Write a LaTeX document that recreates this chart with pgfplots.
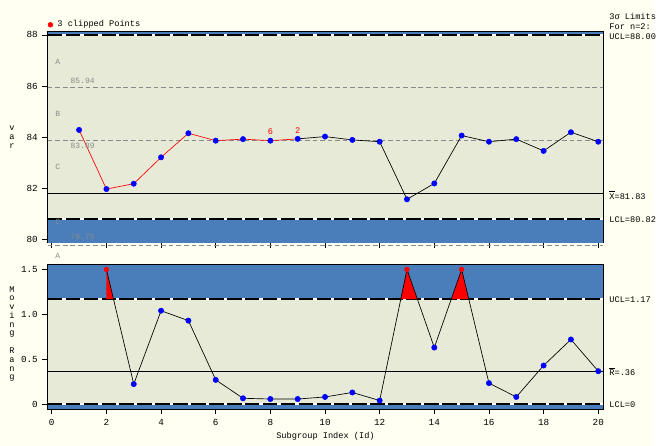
\documentclass[border=0pt]{standalone}
\usepackage{pgfplots}
\pgfplotsset{compat=1.18}
\usepackage{fontspec}
\setmainfont{Liberation Mono}
\definecolor{bg}{HTML}{FFFFF2}
\definecolor{plotbg}{HTML}{E6EAD6}
\definecolor{band}{HTML}{4A7EBB}
\definecolor{zonegray}{HTML}{8A8A8A}
\pgfplotsset{
  spc/.style={
    scale only axis, width=418.5pt, clip=false,
    xmin=-0.146, xmax=20.18,
    axis background/.style={fill=plotbg},
    xtick={0,2,...,20}, tick align=outside, xtick pos=bottom, ytick pos=left,
    major tick length=4pt, tick style={black, line width=0.5pt},
    /pgf/number format/assume math mode=true,
    ticklabel style={font=\fontsize{7}{8}\selectfont},
    axis line style={black, line width=0.6pt},
    ylabel style={rotate=-90, align=center, font=\fontsize{6.5}{6.6}\selectfont, anchor=center},
  },
  ctl/.style={white, line width=1.1pt},
  ctlb/.style={black, line width=1.1pt, dash pattern=on 11pt off 2.5pt},
  zone/.style={zonegray, line width=0.5pt, dash pattern=on 3.5pt off 2.2pt},
}
\tikzset{
  lab/.style={font=\fontsize{6.5}{7}\selectfont, anchor=west, inner sep=0pt},
  zlab/.style={font=\fontsize{6}{7}\selectfont, text=zonegray, inner sep=0pt},
}
\begin{document}
\begin{tikzpicture}
\fill[bg] (0,0) rectangle (492pt,336pt);
% ---------------- top panel: individual values ----------------
\begin{axis}[spc, at={(36pt,153pt)}, anchor=south west, height=159pt,
  ymin=79.88, ymax=88.12, ytick={80,82,...,88}, xticklabels={},
  ylabel={v\\a\\r},
  ylabel style={at={(axis description cs:-0.0645,0.5)}},
  legend style={at={(rel axis cs:0,1)}, anchor=south west, yshift=1pt, draw=none, fill=none,
    font=\fontsize{6.5}{7}\selectfont, inner sep=0pt, nodes={inner sep=1pt}},
  legend cell align=left]
\addlegendimage{only marks, mark=*, red, mark size=1.8pt}
\addlegendentry{\hspace{2.5pt}3 clipped Points}
\addplot[fill=band, draw=none, forget plot] coordinates {(-0.146,79.88) (20.18,79.88) (20.18,80.82) (-0.146,80.82)} -- cycle;
\addplot[fill=band, draw=none, forget plot] coordinates {(-0.146,88) (20.18,88) (20.18,88.12) (-0.146,88.12)} -- cycle;
\addplot[zone, forget plot] coordinates {(-0.146,85.94) (20.18,85.94)};
\addplot[zone, forget plot] coordinates {(-0.146,83.89) (20.18,83.89)};
\addplot[zone, forget plot] coordinates {(-0.146,79.78) (20.18,79.78)};
\addplot[black, line width=0.6pt, forget plot] coordinates {(-0.146,81.83) (20.18,81.83)};
\addplot[ctl, forget plot] coordinates {(-0.146,88) (20.18,88)};
\addplot[ctlb, forget plot] coordinates {(-0.146,88) (20.18,88)};
\addplot[ctl, forget plot] coordinates {(-0.146,80.82) (20.18,80.82)};
\addplot[ctlb, forget plot] coordinates {(-0.146,80.82) (20.18,80.82)};
% data line
\addplot[red, line width=0.5pt, forget plot] coordinates {
(1,84.29) (2,81.98) (3,82.19) (4,83.22) (5,84.16) (6,83.87) (7,83.93) (8,83.87) (9,83.94)};
\addplot[black, line width=0.5pt, forget plot] coordinates {
(9,83.94) (10,84.03) (11,83.90) (12,83.83) (13,81.58) (14,82.20) (15,84.07) (16,83.83)
(17,83.93) (18,83.47) (19,84.20) (20,83.83)};
\addplot[only marks, mark=*, blue, mark size=2pt, forget plot] coordinates {
(1,84.29) (2,81.98) (3,82.19) (4,83.22) (5,84.16) (6,83.87) (7,83.93) (8,83.87) (9,83.94)
(10,84.03) (11,83.90) (12,83.83) (13,81.58) (14,82.20) (15,84.07) (16,83.83)
(17,83.93) (18,83.47) (19,84.20) (20,83.83)};
\node[text=red, font=\fontsize{6.5}{7}\selectfont, anchor=south, inner sep=0pt] at (axis cs:8,84.08) {6};
\node[text=red, font=\fontsize{6.5}{7}\selectfont, anchor=south, inner sep=0pt] at (axis cs:9,84.13) {2};
% zone labels
\node[zlab] at (axis cs:0.22,86.95) {A};
\node[zlab] at (axis cs:0.22,84.90) {B};
\node[zlab] at (axis cs:0.22,82.83) {C};
\node[zlab] at (axis cs:0.22,80.70) {C};
\node[zlab] at (axis cs:1.13,86.20) {85.94};
\node[zlab] at (axis cs:1.13,83.65) {83.89};
\node[zlab] at (axis cs:1.13,80.10) {79.78};
% right labels
\node[lab] at ([xshift=4.5pt]axis cs:20.18,87.95) {UCL=88.00};
\node[lab] at ([xshift=4.5pt,yshift=7.5pt]axis cs:20.18,87.95) {For n=2:};
\node[lab] at ([xshift=4.5pt,yshift=15pt]axis cs:20.18,87.95) {3σ Limits};
\node[lab] at ([xshift=4.5pt]axis cs:20.18,81.75) {$\overline{\hbox{X}}$=81.83};
\node[lab] at ([xshift=4.5pt]axis cs:20.18,80.80) {LCL=80.82};
\end{axis}
% ---------------- bottom panel: moving range ----------------
\begin{axis}[spc, at={(36pt,27.75pt)}, anchor=south west, height=108.75pt,
  ymin=-0.055, ymax=1.552, ytick={0,0.5,1,1.5}, yticklabels={0,0.5,1.0,1.5},
  xticklabels={0,2,4,6,8,10,12,14,16,18,20},
  xlabel={Subgroup Index (Id)},
  xlabel style={font=\fontsize{6.5}{7}\selectfont, yshift=2pt},
  ylabel={M\\o\\v\\i\\n\\g\\[6.6pt]R\\a\\n\\g},
  ylabel style={at={(axis description cs:-0.0645,0.52)}}]
\addplot[fill=band, draw=none] coordinates {(-0.146,1.17) (20.18,1.17) (20.18,1.552) (-0.146,1.552)} -- cycle;
\addplot[fill=band, draw=none] coordinates {(-0.146,-0.055) (20.18,-0.055) (20.18,0) (-0.146,0)} -- cycle;
\addplot[black, line width=0.6pt] coordinates {(-0.146,0.365) (20.18,0.365)};
\addplot[ctl] coordinates {(-0.146,1.17) (20.18,1.17)};
\addplot[ctlb] coordinates {(-0.146,1.17) (20.18,1.17)};
\addplot[ctl] coordinates {(-0.146,0) (20.18,0)};
\addplot[ctlb] coordinates {(-0.146,0) (20.18,0)};
% clipped regions above UCL
\addplot[fill=red, draw=none] coordinates {(2,1.17) (2,1.5) (2.26,1.17)} -- cycle;
\addplot[fill=red, draw=none] coordinates {(12.77,1.17) (13,1.5) (13.38,1.17)} -- cycle;
\addplot[fill=red, draw=none] coordinates {(14.62,1.17) (15,1.5) (15.26,1.17)} -- cycle;
\addplot[black, line width=0.5pt] coordinates {
(2,1.5) (3,0.223) (4,1.04) (5,0.93) (6,0.27) (7,0.065) (8,0.057) (9,0.057) (10,0.08)
(11,0.13) (12,0.04) (13,1.5) (14,0.63) (15,1.5) (16,0.234) (17,0.08) (18,0.43)
(19,0.72) (20,0.367)};
\addplot[only marks, mark=*, blue, mark size=2pt] coordinates {
(3,0.223) (4,1.04) (5,0.93) (6,0.27) (7,0.065) (8,0.057) (9,0.057) (10,0.08)
(11,0.13) (12,0.04) (14,0.63) (16,0.234) (17,0.08) (18,0.43) (19,0.72) (20,0.367)};
\addplot[only marks, mark=*, red, mark size=1.8pt] coordinates {(2,1.5) (13,1.5) (15,1.5)};
\node[zlab] at (axis cs:0.22,1.65) {A};
\node[lab] at ([xshift=4.5pt]axis cs:20.18,1.165) {UCL=1.17};
\node[lab] at ([xshift=4.5pt]axis cs:20.18,0.36) {$\overline{\hbox{R}}$=.36};
\node[lab] at ([xshift=4.5pt]axis cs:20.18,-0.01) {LCL=0};
\end{axis}
\end{tikzpicture}
\end{document}
